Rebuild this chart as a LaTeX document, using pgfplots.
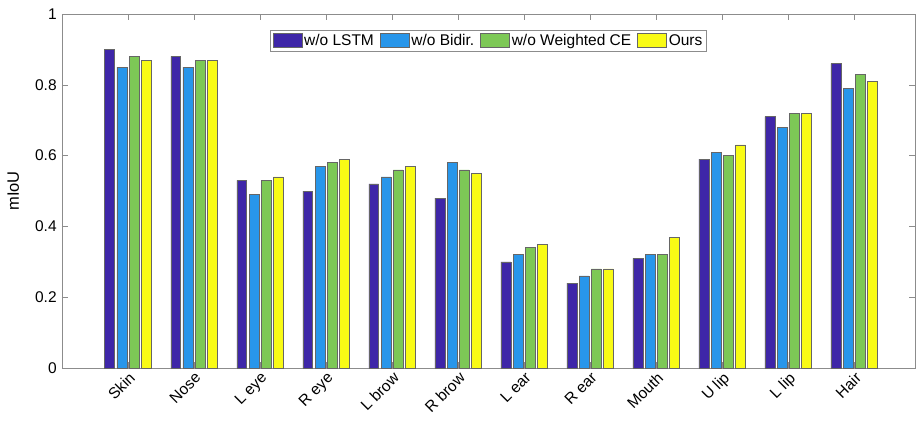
\documentclass[border=0pt]{standalone}
\usepackage{pgfplots}
\pgfplotsset{compat=1.18}
\usepackage{fontspec}
\setmainfont{Liberation Sans}
\definecolor{c1}{HTML}{3E26A8}
\definecolor{c2}{HTML}{2896EA}
\definecolor{c3}{HTML}{7DC856}
\definecolor{c4}{HTML}{F9FB15}
\definecolor{axc}{HTML}{8C8C8C}
\begin{document}
\fontsize{15.5}{18}\selectfont
\begin{tikzpicture}
\path[use as bounding box] (-62pt,-56pt) rectangle (855pt,368pt);
\begin{axis}[
  at={(0pt,0pt)}, anchor=south west,
  scale only axis, width=853pt, height=354pt,
  xmin=0, xmax=12.92, ymin=0, ymax=1,
  xtick={1,...,12},
  xticklabels={Skin,Nose,L eye,R eye,L brow,R brow,L ear,R ear,Mouth,U lip,L lip,Hair},
  x tick label style={rotate=45, anchor=north east, inner sep=2pt, font=\fontsize{15.5}{18}\selectfont},
  ytick={0,0.2,0.4,0.6,0.8,1},
  yticklabels={0,0.2,0.4,0.6,0.8,1},
  y tick label style={font=\fontsize{15.5}{18}\selectfont},
  ylabel={mIoU}, ylabel style={font=\fontsize{16.5}{18}\selectfont, at={(axis description cs:-0.044,0.5)}},
  tick align=inside, tickpos=both,
  major tick length=6pt,
  axis line style={axc}, every tick/.style={axc},
  legend style={at={(0.5,0.955)}, anchor=north, legend columns=4, draw=axc,
    font=\fontsize{15.5}{18}\selectfont, inner sep=2pt,
    /tikz/every even column/.append style={column sep=4pt}},
  legend image code/.code={\draw[#1, draw=black!60] (0pt,-6pt) rectangle (29pt,8pt);},
  every axis plot/.append style={draw=black!60, line width=0.5pt},
]
\addplot[ybar, fill=c1, bar width=0.15, bar shift=-0.2775] coordinates {(1,0.90)(2,0.88)(3,0.53)(4,0.50)(5,0.52)(6,0.48)(7,0.30)(8,0.24)(9,0.31)(10,0.59)(11,0.71)(12,0.86)};
\addplot[ybar, fill=c2, bar width=0.15, bar shift=-0.0925] coordinates {(1,0.85)(2,0.85)(3,0.49)(4,0.57)(5,0.54)(6,0.58)(7,0.32)(8,0.26)(9,0.32)(10,0.61)(11,0.68)(12,0.79)};
\addplot[ybar, fill=c3, bar width=0.15, bar shift=0.0925] coordinates {(1,0.88)(2,0.87)(3,0.53)(4,0.58)(5,0.56)(6,0.56)(7,0.34)(8,0.28)(9,0.32)(10,0.60)(11,0.72)(12,0.83)};
\addplot[ybar, fill=c4, bar width=0.15, bar shift=0.2775] coordinates {(1,0.87)(2,0.87)(3,0.54)(4,0.59)(5,0.57)(6,0.55)(7,0.35)(8,0.28)(9,0.37)(10,0.63)(11,0.72)(12,0.81)};
\legend{w/o LSTM, w/o Bidir., w/o Weighted CE, Ours}
\end{axis}
\end{tikzpicture}
\end{document}
